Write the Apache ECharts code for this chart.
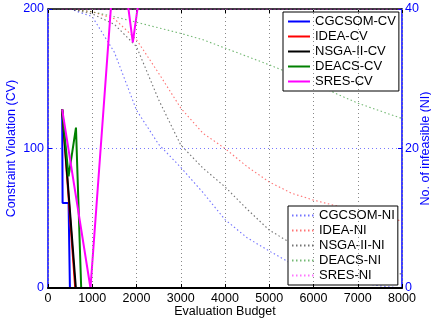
<!DOCTYPE html>
<html>
<head>
<meta charset="utf-8">
<script src="https://cdn.jsdelivr.net/npm/echarts@6/dist/echarts.min.js"></script>
<style>html,body{margin:0;padding:0;background:#fff}#c{width:431px;height:325px}</style>
</head>
<body>
<div id="c"></div>
<script>
// ---- Data ----
var xTicks = [0, 1000, 2000, 3000, 4000, 5000, 6000, 7000, 8000];
var cvTicks = [0, 100, 200];
var niTicks = [0, 20, 40];

// Constraint violation (left axis)
var cgcsomCvX = [320, 330, 465, 495, 8000];
var cgcsomCvY = [128, 61, 61, 0, 0];
var ideaCvX = [320, 615, 8000];
var ideaCvY = [128, 0, 0];
var nsgaCvX = [320, 630, 8000];
var nsgaCvY = [128, 0, 0];
var deacsCvX = [320, 465, 632, 750, 8000];
var deacsCvY = [128, 80, 115, 0, 0];
var sresCvX = [320, 960, 1500, 1700, 1917, 2200, 2500, 3000, 4000, 5000, 6000, 7000, 8000];
var sresCvY = [128, 0, 235, 229, 176, 241, 260, 280, 300, 290, 310, 320, 330];

// Number of infeasible (right axis)
var niX = [320, 500, 1000, 1500, 2000, 2500, 3000, 3500, 4000, 4500, 5000, 5500, 6000, 6500, 7000, 7500, 8000];
var cgcsomNi = [40, 40, 38.9, 33.8, 25.5, 20.6, 17.3, 13.7, 9.8, 7.2, 5.3, 3.5, 2.4, 1.5, 0.8, 0.3, 0];
var ideaNi   = [40, 40, 39.6, 38.6, 35.6, 30.8, 25.8, 22.2, 20.0, 17.4, 15.2, 13.6, 12.6, 11.8, 11.0, 10.3, 9.6];
var nsgaNi   = [40, 40, 39.3, 37.8, 34.6, 27.0, 20.5, 17.2, 14.5, 11.3, 8.3, 6.4, 5.0, 4.0, 3.0, 2.5, 2.0];
var deacsNi  = [40, 40, 39.6, 38.9, 38.1, 37.3, 36.5, 35.6, 34.4, 33.2, 32.0, 30.7, 29.4, 27.9, 26.5, 25.4, 24.3];
var sresNi   = [40, 40, 40, 40, 40, 40, 40, 40, 40, 40, 40, 40, 40, 40, 40, 40, 40];

var cvNames = ['CGCSOM-CV', 'IDEA-CV', 'NSGA-II-CV', 'DEACS-CV', 'SRES-CV'];
var niNames = ['CGCSOM-NI', 'IDEA-NI', 'NSGA-II-NI', 'DEACS-NI', 'SRES-NI'];
var colors = ['#0000ff', '#ff0000', '#000000', '#008000', '#ff00ff'];

function pairs(xs, ys) { return xs.map(function (x, i) { return [x, ys[i]]; }); }

var FONT = 'Liberation Sans, Arial, Helvetica, sans-serif';
var cvData = [pairs(cgcsomCvX, cgcsomCvY), pairs(ideaCvX, ideaCvY), pairs(nsgaCvX, nsgaCvY), pairs(deacsCvX, deacsCvY), pairs(sresCvX, sresCvY)];
var niData = [cgcsomNi, ideaNi, nsgaNi, deacsNi, sresNi].map(function (a) { return pairs(niX, a); });

var series = [];
niNames.forEach(function (n, i) {
  series.push({
    name: n, type: 'line', xAxisIndex: 0, yAxisIndex: 1, data: niData[i],
    symbol: 'none', showSymbol: false, clip: true, z: 2,
    lineStyle: { color: colors[i], width: 1.1, type: [1.5, 2.5], opacity: 0.55 },
    itemStyle: { color: colors[i] }
  });
});
cvNames.forEach(function (n, i) {
  series.push({
    name: n, type: 'line', xAxisIndex: 0, yAxisIndex: 0, data: cvData[i],
    symbol: 'none', showSymbol: false, clip: true, z: 3,
    lineStyle: { color: colors[i], width: 2 },
    itemStyle: { color: colors[i] }
  });
});

var legendCommon = {
  orient: 'vertical', itemHeight: 13, itemGap: 2,
  backgroundColor: '#fff', borderColor: '#000', borderWidth: 1, borderRadius: 0,
  textStyle: { fontSize: 13, color: '#000', fontFamily: FONT }, selectedMode: false,
  itemStyle: { opacity: 0 }
};

var chart = echarts.init(document.getElementById('c'), null, { renderer: 'canvas' });
chart.setOption({
  animation: false,
  backgroundColor: '#fff',
  textStyle: { fontFamily: FONT },
  grid: { left: 48, right: 29, top: 9, bottom: 37, containLabel: false, outerBoundsMode: 'none' },
  legend: [
    Object.assign({}, legendCommon, { data: cvNames, left: 283, top: 12, itemWidth: 22, padding: [3, 3, 3, 4] }),
    Object.assign({}, legendCommon, { data: niNames, left: 288, top: 206, itemWidth: 22, padding: [3, 3, 3, 3] })
  ],
  xAxis: [
    {
      type: 'value', position: 'bottom', min: xTicks[0], max: xTicks[xTicks.length - 1], interval: 1000, z: 5,
      name: 'Evaluation Budget', nameLocation: 'middle', nameGap: 17, nameMoveOverlap: false,
      nameTextStyle: { fontSize: 12.5, color: '#000', fontFamily: FONT },
      axisLine: { show: true, onZero: false, lineStyle: { color: '#000', width: 2 } },
      axisTick: { show: true, inside: true, length: 4, lineStyle: { color: '#000' } },
      axisLabel: { fontSize: 12.5, color: '#000', margin: 4, fontFamily: FONT, formatter: function (v) { return String(v); } },
      splitLine: { show: true, lineStyle: { color: '#888', width: 1, type: [1, 3] } }
    },
    {
      type: 'value', position: 'top', min: xTicks[0], max: xTicks[xTicks.length - 1], interval: 1000,
      axisLine: { show: true, onZero: false, lineStyle: { color: '#000', width: 1.5 } },
      axisTick: { show: true, inside: true, length: 4, lineStyle: { color: '#000' } },
      axisLabel: { show: false }, splitLine: { show: false }
    }
  ],
  yAxis: [
    {
      type: 'value', position: 'left', min: cvTicks[0], max: cvTicks[cvTicks.length - 1], interval: 100,
      name: 'Constraint Violation (CV)', nameLocation: 'middle', nameGap: 30, nameRotate: 90, nameMoveOverlap: false,
      nameTextStyle: { fontSize: 12.5, color: '#0000ff', fontFamily: FONT },
      axisLine: { show: true, onZero: false, lineStyle: { color: '#0000ff', width: 1.5 } },
      axisTick: { show: true, inside: true, length: 4, lineStyle: { color: '#0000ff' } },
      axisLabel: { fontSize: 12.5, color: '#0000ff', margin: 4, fontFamily: FONT },
      splitLine: { show: true, lineStyle: { color: '#7777ff', width: 1, type: [1, 3] } }
    },
    {
      type: 'value', position: 'right', min: niTicks[0], max: niTicks[niTicks.length - 1], interval: 20,
      name: 'No. of infeasible (NI)', nameLocation: 'middle', nameGap: 17, nameRotate: 90, nameMoveOverlap: false,
      nameTextStyle: { fontSize: 12.5, color: '#0000ff', fontFamily: FONT },
      axisLine: { show: true, onZero: false, lineStyle: { color: '#0000ff', width: 1.5 } },
      axisTick: { show: true, inside: true, length: 4, lineStyle: { color: '#0000ff' } },
      axisLabel: { fontSize: 12.5, color: '#0000ff', margin: 3, fontFamily: FONT },
      splitLine: { show: false }
    }
  ],
  series: series
});
</script>
</body>
</html>
